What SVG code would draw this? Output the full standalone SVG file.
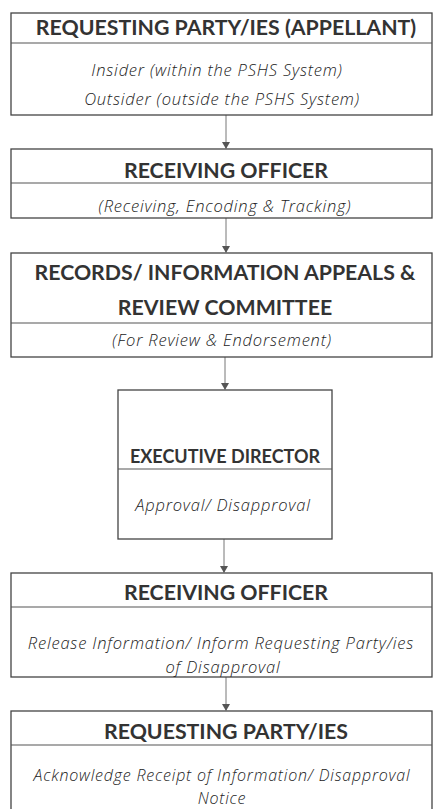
<svg xmlns="http://www.w3.org/2000/svg" width="433" height="809" viewBox="0 0 433 809">
<defs>
<style>
.box{fill:#fff;stroke:#444;stroke-width:1.3}
.div{stroke:#555;stroke-width:1.1}
.h{font-family:Lato,"Liberation Sans",sans-serif;font-weight:bold;font-size:21.3px;fill:#333;text-anchor:middle}
.s{font-family:"Open Sans","Liberation Sans",sans-serif;font-style:italic;font-weight:300;font-size:16.5px;letter-spacing:0.8px;fill:#222;text-anchor:middle}
.c{stroke:#777;stroke-width:1;fill:none}
</style>
</defs>
<rect width="433" height="809" fill="#fff"/>
<g id="connectors">
<line class="c" x1="226" y1="115" x2="226" y2="148"/><path d="M222,142 L230,142 L226,149 Z" fill="#555"/>
<line class="c" x1="226" y1="218" x2="226" y2="252"/><path d="M222,246 L230,246 L226,253 Z" fill="#555"/>
<line class="c" x1="225" y1="357" x2="225" y2="389"/><path d="M221,383 L229,383 L225,390 Z" fill="#555"/>
<line class="c" x1="224" y1="539" x2="224" y2="572"/><path d="M220,566 L228,566 L224,573 Z" fill="#555"/>
<line class="c" x1="226" y1="677" x2="226" y2="710"/><path d="M222,704 L230,704 L226,711 Z" fill="#555"/>
</g>
<g id="node1">
<rect class="box" x="11" y="13" width="421" height="102"/>
<line class="div" x1="11" y1="43" x2="432" y2="43"/>
<text class="h" x="226" y="35">REQUESTING PARTY/IES (APPELLANT)</text>
<text class="s" x="217" y="76">Insider (within the PSHS System)</text>
<text class="s" x="222" y="105">Outsider (outside the PSHS System)</text>
</g>
<g id="node2">
<rect class="box" x="11" y="149" width="421" height="69"/>
<line class="div" x1="11" y1="183" x2="432" y2="183"/>
<text class="h" x="226" y="178">RECEIVING OFFICER</text>
<text class="s" x="225" y="212">(Receiving, Encoding &amp; Tracking)</text>
</g>
<g id="node3">
<rect class="box" x="11" y="253" width="421" height="104"/>
<line class="div" x1="11" y1="323" x2="432" y2="323"/>
<text class="h" x="225" y="280">RECORDS/ INFORMATION APPEALS &amp;</text>
<text class="h" x="225" y="315">REVIEW COMMITTEE</text>
<text class="s" x="222" y="346">(For Review &amp; Endorsement)</text>
</g>
<g id="node4">
<rect class="box" x="118" y="390" width="214" height="149"/>
<line class="div" x1="118" y1="469" x2="332" y2="469"/>
<text class="h" x="225" y="463" style="font-size:18px">EXECUTIVE DIRECTOR</text>
<text class="s" x="223" y="511">Approval/ Disapproval</text>
</g>
<g id="node5">
<rect class="box" x="11" y="573" width="421" height="104"/>
<line class="div" x1="11" y1="607" x2="432" y2="607"/>
<text class="h" x="226" y="600">RECEIVING OFFICER</text>
<text class="s" x="221" y="649">Release Information/ Inform Requesting Party/ies</text>
<text class="s" x="223" y="673">of Disapproval</text>
</g>
<g id="node6">
<rect class="box" x="11" y="711" width="421" height="110"/>
<line class="div" x1="11" y1="745" x2="432" y2="745"/>
<text class="h" x="226" y="739">REQUESTING PARTY/IES</text>
<text class="s" x="222" y="781" style="font-size:16px">Acknowledge Receipt of Information/ Disapproval</text>
<text class="s" x="222" y="803.5" style="font-size:16px">Notice</text>
</g>
</svg>
